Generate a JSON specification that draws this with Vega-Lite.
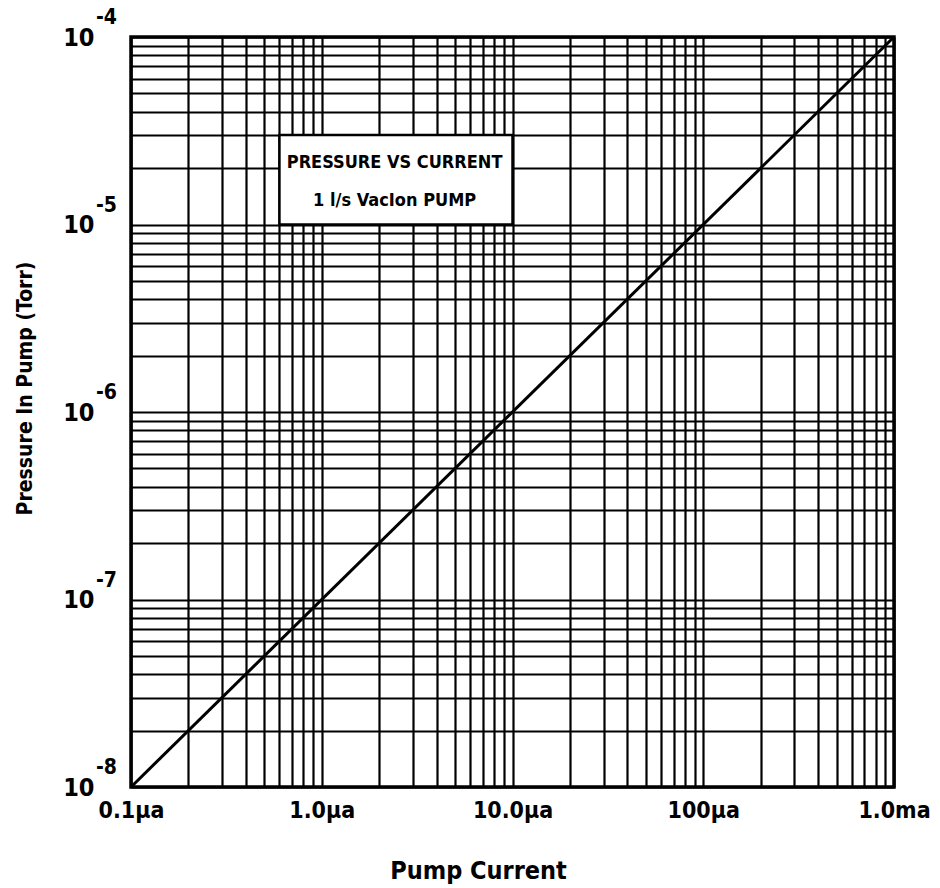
{
  "$schema": "https://vega.github.io/schema/vega-lite/v6.json",
  "width": 763,
  "height": 750,
  "autosize": {"type": "none"},
  "padding": {"left": 131, "top": 37, "right": 46, "bottom": 101},
  "background": "white",
  "config": {
    "view": {"stroke": "black", "strokeWidth": 3.5},
    "font": "DejaVu Sans Condensed",
    "axis": {
      "grid": true,
      "gridColor": "black",
      "gridOpacity": 1,
      "gridWidth": 2.2,
      "domain": false,
      "ticks": false,
      "labelOverlap": false,
      "labelBound": false,
      "labelFlush": false,
      "labelColor": "black",
      "titleColor": "black",
      "labelFont": "DejaVu Sans Condensed",
      "titleFont": "DejaVu Sans Condensed",
      "labelFontWeight": "bold",
      "titleFontWeight": "bold"
    }
  },
  "datasets": {
    "curve": [
      {"I": 0.1, "P": 1e-8},
      {"I": 1000, "P": 1e-4}
    ],
    "box": [
      {"I": 0.6, "I2": 10, "P": 1e-5, "P2": 3e-5}
    ],
    "boxtext": [
      {"I": 2.41, "P": 2.12e-5, "text": "PRESSURE VS CURRENT"},
      {"I": 2.41, "P": 1.34e-5, "text": "1 l/s VacIon PUMP"}
    ],
    "exps": [
      {"I": 0.1, "P": 1e-8, "exp": "-8"},
      {"I": 0.1, "P": 1e-7, "exp": "-7"},
      {"I": 0.1, "P": 1e-6, "exp": "-6"},
      {"I": 0.1, "P": 1e-5, "exp": "-5"},
      {"I": 0.1, "P": 1e-4, "exp": "-4"}
    ]
  },
  "encoding": {
    "x": {
      "field": "I",
      "type": "quantitative",
      "scale": {"type": "log", "domain": [0.1, 1000], "nice": false},
      "axis": {
        "values": [0.1,0.2,0.3,0.4,0.5,0.6,0.7,0.8,0.9,1,2,3,4,5,6,7,8,9,10,20,30,40,50,60,70,80,90,100,200,300,400,500,600,700,800,900,1000],
        "labelExpr": "datum.value == 0.1 ? '0.1µa' : datum.value == 1 ? '1.0µa' : datum.value == 10 ? '10.0µa' : datum.value == 100 ? '100µa' : datum.value == 1000 ? '1.0ma' : ''",
        "labelFontSize": 23,
        "labelPadding": 12,
        "labelDx": 8,
        "title": "Pump Current",
        "titleFontSize": 25,
        "titleX": 347,
        "titleY": 91,
        "titleBaseline": "alphabetic",
        "titleAlign": "center"
      }
    },
    "y": {
      "field": "P",
      "type": "quantitative",
      "scale": {"type": "log", "domain": [1e-8, 1e-4], "nice": false},
      "axis": {
        "values": [1e-8,2e-8,3e-8,4e-8,5e-8,6e-8,7e-8,8e-8,9e-8,1e-7,2e-7,3e-7,4e-7,5e-7,6e-7,7e-7,8e-7,9e-7,1e-6,2e-6,3e-6,4e-6,5e-6,6e-6,7e-6,8e-6,9e-6,1e-5,2e-5,3e-5,4e-5,5e-5,6e-5,7e-5,8e-5,9e-5,1e-4],
        "labelExpr": "abs(log(datum.value)/LN10 - round(log(datum.value)/LN10)) < 0.001 ? '10' : ''",
        "labelFontSize": 25,
        "labelPadding": 37,
        "labelAlign": "right",
        "labelBaseline": "middle",
        "title": "Pressure In Pump (Torr)",
        "titleFontSize": 21,
        "titleAngle": -90,
        "titleX": -106,
        "titleY": 351,
        "titleAlign": "center",
        "titleBaseline": "middle"
      }
    }
  },
  "layer": [
    {
      "data": {"name": "curve"},
      "mark": {"type": "line", "color": "black", "strokeWidth": 3, "clip": true}
    },
    {
      "data": {"name": "box"},
      "mark": {"type": "rect", "fill": "white", "stroke": "black", "strokeWidth": 2.5},
      "encoding": {
        "x2": {"field": "I2"},
        "y2": {"field": "P2"}
      }
    },
    {
      "data": {"name": "boxtext"},
      "mark": {"type": "text", "font": "DejaVu Sans Condensed", "fontWeight": "bold", "fontSize": 18, "color": "black", "align": "center", "baseline": "middle"},
      "encoding": {
        "text": {"field": "text"}
      }
    },
    {
      "data": {"name": "exps"},
      "mark": {"type": "text", "font": "DejaVu Sans Condensed", "fontWeight": "bold", "fontSize": 21, "color": "black", "align": "left", "baseline": "middle", "dx": -35, "dy": -19},
      "encoding": {
        "text": {"field": "exp"}
      }
    }
  ]
}
